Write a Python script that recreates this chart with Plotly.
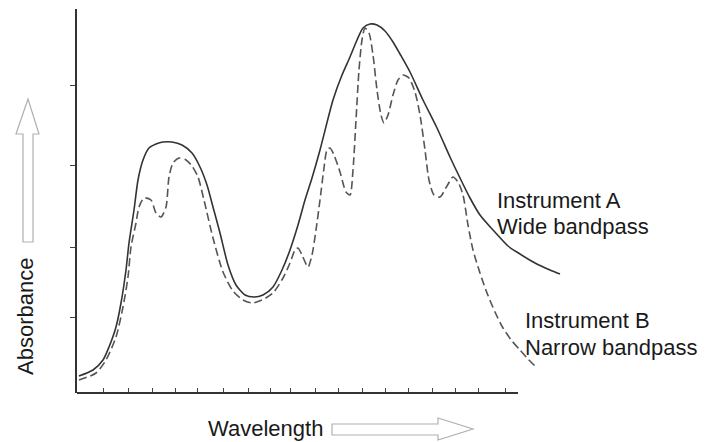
import plotly.graph_objects as go

# ---- data (arbitrary units) ----
wide_x = [2, 16, 26, 32, 39, 44, 49, 52, 57, 61, 66, 72, 79, 86, 95, 105, 115, 123, 130, 136, 143, 151,
          159, 168, 177, 186, 196, 205, 213, 221, 228, 235, 243, 256, 265, 273, 280, 286, 293, 300,
          308, 316, 323, 333, 346, 360, 373, 383, 393, 403, 416, 431, 443, 458, 473, 483]
wide_y = [17, 23, 33, 46, 66, 90, 123, 150, 183, 213, 233, 245, 249, 251, 251, 248, 240, 226, 208, 186,
          160, 128, 108, 98, 96, 98, 106, 123, 143, 168, 193, 215, 243, 293, 318, 336, 353, 365, 369,
          368, 362, 351, 339, 321, 293, 265, 236, 215, 195, 178, 163, 147, 139, 130, 123, 119]

narrow_x = [2, 19, 29, 39, 46, 51, 54, 59, 62, 67, 74, 79, 84, 89, 92, 96, 102, 109, 115, 121, 127,
            136, 146, 156, 166, 175, 185, 196, 206, 213, 218, 221, 225, 231, 235, 239, 243, 247, 250,
            253, 257, 263, 269, 273, 276, 279, 282, 285, 288, 292, 296, 300, 304, 307, 311, 316, 321,
            326, 332, 338, 343, 348, 352, 357, 363, 370, 376, 381, 386, 391, 396, 403, 410, 418, 426,
            435, 443, 451, 458]
narrow_y = [13, 20, 33, 56, 86, 116, 146, 170, 186, 195, 193, 180, 176, 186, 216, 230, 235, 233, 227,
            216, 193, 155, 121, 102, 93, 90, 93, 100, 115, 130, 143, 145, 138, 126, 138, 163, 193, 225,
            243, 245, 238, 221, 201, 198, 223, 273, 323, 353, 365, 360, 338, 303, 278, 270, 278, 298,
            313, 318, 315, 301, 278, 243, 213, 198, 196, 207, 216, 211, 198, 168, 143, 120, 100, 81,
            65, 52, 43, 34, 27]

x_ticks = [26, 51, 75, 98, 120, 146, 171, 193, 213, 238, 261, 285, 308, 331, 355, 378, 401, 428]
y_ticks = [76, 146, 228, 308]

AXIS_END = 441

# ---- layout geometry (pixels) ----
W, H = 725, 442
L, R, T, B = 77, 715, 9, 393


def px(xp):
    return (xp - L) / (R - L)


def py(yp):
    return (B - yp) / (B - T)


fig = go.Figure()
fig.add_trace(go.Scatter(x=wide_x, y=wide_y, mode="lines", name="Instrument A",
                         line=dict(color="#333333", width=1.6, shape="spline", smoothing=0.7),
                         showlegend=False))
fig.add_trace(go.Scatter(x=narrow_x, y=narrow_y, mode="lines", name="Instrument B",
                         line=dict(color="#555555", width=1.6, shape="spline", smoothing=0.7,
                                   dash="8px,4px"),
                         showlegend=False))

font = dict(family="Liberation Sans, Arial, sans-serif", size=22, color="#1a1a1a")

annotations = [
    dict(text="Instrument A", x=px(495), y=py(200), xanchor="left", yanchor="middle"),
    dict(text="Wide bandpass", x=px(495), y=py(226), xanchor="left", yanchor="middle"),
    dict(text="Instrument B", x=px(523), y=py(320), xanchor="left", yanchor="middle"),
    dict(text="Narrow bandpass", x=px(523), y=py(347), xanchor="left", yanchor="middle"),
    dict(text="Wavelength", x=px(265), y=py(428), xanchor="center", yanchor="middle"),
    dict(text="Absorbance", x=px(25), y=py(317), xanchor="center", yanchor="middle", textangle=-90),
]
for a in annotations:
    a.update(xref="paper", yref="paper", showarrow=False, font=font)


def path(points):
    s = "M " + " L ".join(f"{px(a):.5f},{py(b):.5f}" for a, b in points) + " Z"
    return s


up_arrow = [(23, 242), (23, 134), (16, 134), (28, 99), (39, 134), (33, 134), (33, 242)]
right_arrow = [(332, 424), (438, 424), (438, 418), (473, 429), (438, 440), (438, 435), (332, 435)]

shapes = [
    dict(type="path", path=path(up_arrow), xref="paper", yref="paper",
         line=dict(color="#b0b0b0", width=1.2), fillcolor="white", layer="above"),
    dict(type="path", path=path(right_arrow), xref="paper", yref="paper",
         line=dict(color="#b0b0b0", width=1.2), fillcolor="white", layer="above"),
    dict(type="line", xref="x", yref="paper", x0=0, x1=AXIS_END, y0=0, y1=0,
         line=dict(color="#333333", width=2), layer="above"),
]

fig.update_layout(
    width=W, height=H,
    margin=dict(l=L, r=W - R, t=T, b=H - B, pad=0),
    paper_bgcolor="white", plot_bgcolor="white",
    annotations=annotations, shapes=shapes,
    xaxis=dict(range=[0, R - L], showgrid=False, zeroline=False, showline=False,
               tickmode="array", tickvals=x_ticks, ticks="inside", ticklen=5,
               tickcolor="#444444", tickwidth=1, showticklabels=False, fixedrange=True),
    yaxis=dict(range=[0, B - T], showgrid=False, zeroline=False, showline=True,
               linecolor="#333333", linewidth=1.6,
               tickmode="array", tickvals=y_ticks, ticks="outside", ticklen=5,
               tickcolor="#444444", tickwidth=1, showticklabels=False, fixedrange=True),
)

fig.write_html("out.html")
